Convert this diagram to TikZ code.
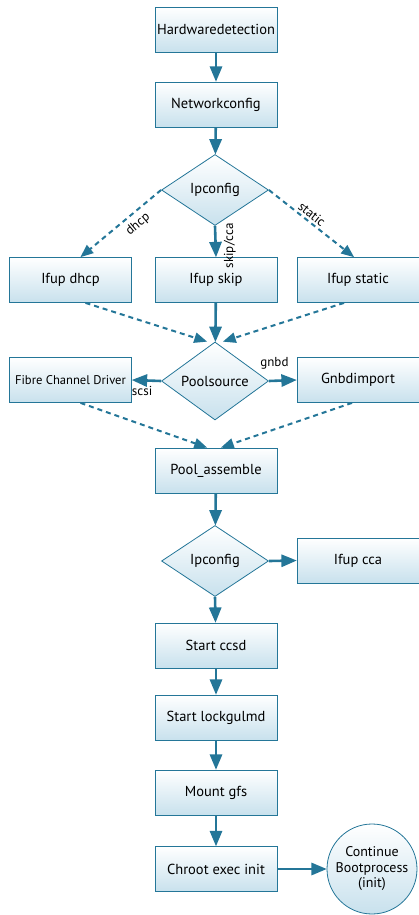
\documentclass[tikz,border=0pt]{standalone}
\usepackage{fontspec}
\setmainfont{PT Sans}
\usetikzlibrary{arrows,shapes,positioning}
\definecolor{flowline}{RGB}{36,118,152}
\definecolor{flowfill}{RGB}{200,225,237}
\tikzset{
  stepbox/.style={rectangle,draw=flowline,line width=0.8pt,top color=white,bottom color=flowfill,
    minimum width=122pt,minimum height=45pt,inner sep=2pt},
  decision/.style={diamond,draw=flowline,line width=0.8pt,top color=white,bottom color=flowfill,
    minimum width=107pt,minimum height=71pt,inner sep=0pt},
  bootend/.style={circle,draw=flowline,line width=0.8pt,top color=white,bottom color=flowfill,
    minimum size=90pt,align=center,inner sep=0pt,font=\fontsize{14}{15.5}\selectfont},
  flow/.style={draw=flowline,line width=2.6pt,-triangle 45},
  option/.style={flow,line width=2pt,dash pattern=on 5pt off 4pt},
  edgelabel/.style={font=\fontsize{13}{14}\selectfont,inner sep=2pt}
}

\begin{document}
\begin{tikzpicture}[x=1pt,y=1pt,font=\fontsize{14.5}{16}\selectfont]
\useasboundingbox (0,0) rectangle (418,-915);
% Boot steps
\node[stepbox] (hw) at (216,-29.5) {Hardwaredetection};
\node[stepbox] (net) at (216,-104.5) {Networkconfig};
\node[decision] (ip) at (215,-190) {Ipconfig};
\node[stepbox] (dhcp) at (70.5,-280) {Ifup dhcp};
\node[stepbox] (skip) at (216,-280) {Ifup skip};
\node[stepbox] (static) at (358,-280) {Ifup static};
\node[decision] (pool) at (215,-381) {Poolsource};
\node[stepbox,font=\fontsize{12.6}{14}\selectfont] (fibre) at (70.5,-380) {Fibre Channel Driver};
\node[stepbox] (gnbd) at (358,-380) {Gnbdimport};
\node[stepbox] (assemble) at (216,-470.5) {Pool\_assemble};
\node[decision] (ip2) at (215,-561) {Ipconfig};
\node[stepbox] (cca) at (358,-560.5) {Ifup cca};
\node[stepbox] (ccsd) at (216,-645.5) {Start ccsd};
\node[stepbox] (gulm) at (216,-717.5) {Start lockgulmd};
\node[stepbox] (gfs) at (216,-792.5) {Mount gfs};
\node[stepbox] (chroot) at (216,-869) {Chroot exec init};
\node[bootend] (boot) at (372,-869) {Continue\\Bootprocess\\(init)};

% Network setup
\draw[option] (ip.west) -- ([xshift=10pt]dhcp.north)
  node[edgelabel,pos=0.38,sloped,below,inner sep=5pt] {dhcp};
\draw[flow] (hw) -- (net);
\draw[flow] (net) -- (ip);
\draw[flow] (ip.south) -- (skip.north)
  node[edgelabel,pos=0.64,rotate=90,anchor=north,yshift=-5pt] {skip/cca};
\draw[option] (ip.east) -- ([xshift=-4pt]static.north)
  node[edgelabel,pos=0.45,sloped,above] {static};

% Pool setup
\draw[option] ([xshift=15pt]dhcp.south) -- ([xshift=-8pt]pool.north);
\draw[flow] (skip) -- (pool);
\draw[option] ([xshift=-14pt]static.south) -- ([xshift=8pt]pool.north);
\draw[flow] (pool.west) -- (fibre.east)
  node[edgelabel,pos=0.65,below,yshift=-3pt] {scsi};
\draw[flow] (pool.east) -- (gnbd.west)
  node[edgelabel,pos=0.2,above,yshift=8pt] {gnbd};
\draw[option] ([xshift=10pt]fibre.south) -- ([xshift=-9pt]assemble.north);
\draw[option] ([xshift=-6pt]gnbd.south) -- ([xshift=5pt]assemble.north);

% Cluster start
\draw[flow] (assemble) -- (ip2);
\draw[flow] (ip2.east) -- (cca.west);
\draw[flow] (ip2.south) -- (ccsd);
\draw[flow] (ccsd) -- (gulm);
\draw[flow] (gulm) -- (gfs);
\draw[flow] (gfs) -- (chroot);
\draw[flow] (chroot) -- (boot);
\end{tikzpicture}
\end{document}
